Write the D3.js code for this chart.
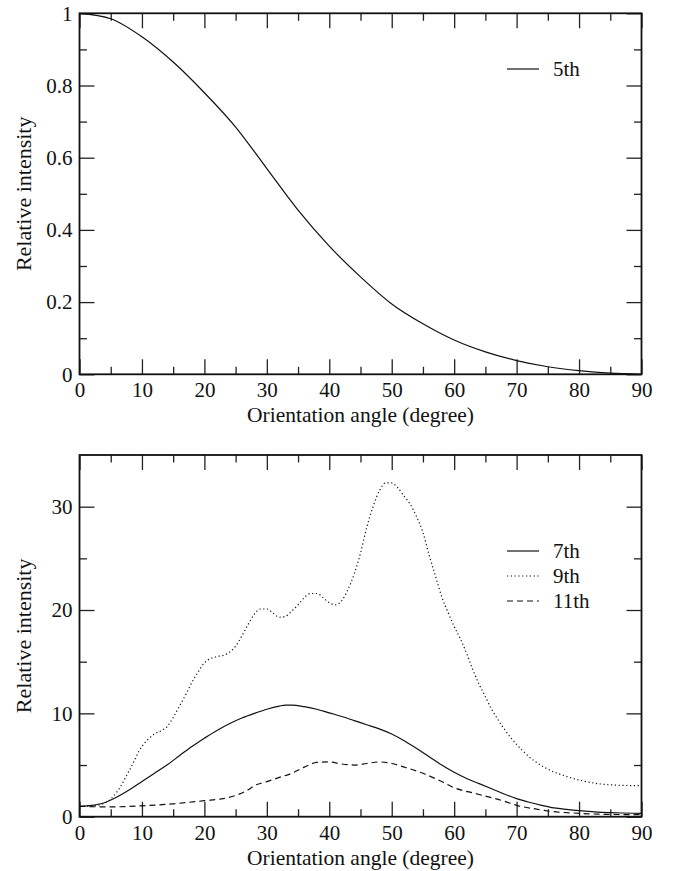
<!DOCTYPE html>
<html><head><meta charset="utf-8">
<script src="https://cdn.jsdelivr.net/npm/d3@7/dist/d3.min.js"></script>
<style>
body{margin:0;background:#fff;}
</style></head><body>
<svg id="c" width="677" height="871"></svg>
<script>
// ---- data ----
const angles5 = [0,5,10,15,20,25,30,35,40,45,50,55,60,65,70,75,80,85,90];
const fifth   = [1.0,0.985,0.935,0.865,0.78,0.685,0.57,0.455,0.355,0.27,0.195,0.14,0.095,0.062,0.038,0.021,0.01,0.003,0.0];

const angles7 = [0,2,4,6,8,10,12,14,16,18,20,22,24,26,28,30,32,33,34,36,38,40,42,44,46,48,50,52,54,56,58,60,62,64,66,68,70,72,74,76,78,80,83,86,90];
const seventh = [1.0,1.1,1.35,1.9,2.6,3.4,4.2,5.0,5.9,6.8,7.6,8.35,9.0,9.55,10.0,10.4,10.7,10.8,10.8,10.65,10.4,10.05,9.7,9.3,8.9,8.5,8.0,7.35,6.6,5.8,5.0,4.3,3.7,3.2,2.7,2.2,1.75,1.4,1.1,0.85,0.7,0.58,0.45,0.38,0.33];

const angles9 = [0,2,4,6,8,10,11,12,13,14,15,16,17,18,19,20,21,22,23,24,25,26,27,28,29,30,31,32,33,34,35,36,37,38,39,40,41,42,43,44,45,46,47,48,49,50,51,52,53,54,55,56,57,58,59,60,61,62,63,64,65,66,67,68,69,70,72,75,78,80,83,86,90];
const ninth   = [1.0,1.05,1.3,2.4,4.5,6.8,7.5,8.0,8.3,8.7,9.6,10.7,11.8,13.0,14.0,14.9,15.3,15.5,15.6,15.9,16.5,17.5,18.6,19.6,20.1,20.1,19.7,19.3,19.4,19.9,20.5,21.2,21.6,21.6,21.2,20.7,20.5,20.9,22.0,23.5,25.5,28.0,30.0,31.5,32.3,32.3,31.8,31.0,30.2,29.0,27.5,25.3,23.3,21.3,19.8,18.4,17.2,15.8,14.2,12.8,11.6,10.4,9.4,8.5,7.7,7.0,5.8,4.6,3.9,3.55,3.2,3.05,3.0];

const angles11 = [0,5,10,15,20,23,25,27,28,30,32,34,36,38,40,42,44,46,48,50,52,55,58,60,63,65,68,70,73,75,80,85,90];
const eleventh = [1.0,0.95,1.05,1.25,1.55,1.75,2.05,2.6,3.0,3.4,3.8,4.2,4.8,5.25,5.3,5.1,5.0,5.15,5.3,5.15,4.8,4.2,3.4,2.8,2.3,2.0,1.5,1.1,0.75,0.55,0.33,0.22,0.2];

const xMajor = [0,10,20,30,40,50,60,70,80,90];
const xMinor = [5,15,25,35,45,55,65,75,85];
const yTopMajor = [0,0.2,0.4,0.6,0.8,1];
const yTopLabels = ["0","0.2","0.4","0.6","0.8","1"];
const yTopMinor = [0.1,0.3,0.5,0.7,0.9];
const yBotMajor = [0,10,20,30];
const yBotMinor = [5,15,25];

const legendTop = [{name:"5th", dash:null}];
const legendBot = [{name:"7th", dash:null},{name:"9th", dash:"1.2,2.6"},{name:"11th", dash:"6,4"}];

// ---- drawing ----
const FONT = '"Liberation Serif", "Times New Roman", Tinos, serif';
const svg = d3.select("#c");
const L = 79.5, R = 641.5;
const panels = [
  {top:13.3, bottom:374.3, ydom:[0,1], yMajor:yTopMajor, yLabels:yTopLabels, yMinor:yTopMinor,
   series:[{x:angles5,y:fifth,dash:null}], legend:legendTop, legY:69},
  {top:455, bottom:816.7, ydom:[0,35], yMajor:yBotMajor, yLabels:yBotMajor.map(String), yMinor:yBotMinor,
   series:[{x:angles7,y:seventh,dash:null},{x:angles9,y:ninth,dash:"1.2,2.6"},{x:angles11,y:eleventh,dash:"6,4"}],
   legend:legendBot, legY:551}
];

const x = d3.scaleLinear().domain([0,90]).range([L,R]);
const MAJ = 15, MIN = 7.5, FS = 21;

panels.forEach(p=>{
  const y = d3.scaleLinear().domain(p.ydom).range([p.bottom,p.top]);
  const g = svg.append("g");

  const bx = g.append("g").attr("transform",`translate(0,${p.bottom})`)
    .call(d3.axisBottom(x).tickValues(xMajor).tickSize(-MAJ).tickPadding(8).tickFormat(d3.format("d")));
  const bxm = g.append("g").attr("transform",`translate(0,${p.bottom})`)
    .call(d3.axisBottom(x).tickValues(xMinor).tickSize(-MIN).tickFormat(""));
  const tx = g.append("g").attr("transform",`translate(0,${p.top})`)
    .call(d3.axisTop(x).tickValues(xMajor).tickSize(-MAJ).tickFormat(""));
  const txm = g.append("g").attr("transform",`translate(0,${p.top})`)
    .call(d3.axisTop(x).tickValues(xMinor).tickSize(-MIN).tickFormat(""));
  const ly = g.append("g").attr("transform",`translate(${L},0)`)
    .call(d3.axisLeft(y).tickValues(p.yMajor).tickSize(-MAJ).tickPadding(7).tickFormat((d,i)=>p.yLabels[i]));
  const lym = g.append("g").attr("transform",`translate(${L},0)`)
    .call(d3.axisLeft(y).tickValues(p.yMinor).tickSize(-MIN).tickFormat(""));
  const ry = g.append("g").attr("transform",`translate(${R},0)`)
    .call(d3.axisRight(y).tickValues(p.yMajor).tickSize(-MAJ).tickFormat(""));
  const rym = g.append("g").attr("transform",`translate(${R},0)`)
    .call(d3.axisRight(y).tickValues(p.yMinor).tickSize(-MIN).tickFormat(""));

  [bx,bxm,tx,txm,ly,lym,ry,rym].forEach(a=>{
    a.attr("font-family",FONT).attr("font-size",FS);
    a.select(".domain").remove();
    a.selectAll(".tick line").attr("stroke","#222").attr("stroke-width",1.3);
    a.selectAll("text").attr("font-family",FONT).attr("font-size",FS).attr("fill","#111");
  });

  g.append("rect").attr("x",L).attr("y",p.top).attr("width",R-L).attr("height",p.bottom-p.top)
    .attr("fill","none").attr("stroke","#111").attr("stroke-width",1.8);

  const clipId = "clip"+Math.round(p.top);
  svg.append("clipPath").attr("id",clipId).append("rect")
    .attr("x",L).attr("y",p.top).attr("width",R-L).attr("height",p.bottom-p.top);
  p.series.forEach(s=>{
    const pts = s.x.map((a,i)=>[a,s.y[i]]);
    g.append("path").datum(pts)
      .attr("clip-path",`url(#${clipId})`)
      .attr("d", d3.line().x(d=>x(d[0])).y(d=>y(d[1])).curve(d3.curveMonotoneX))
      .attr("fill","none").attr("stroke","#111").attr("stroke-width",1.2)
      .attr("stroke-dasharray", s.dash);
  });

  p.legend.forEach((l,i)=>{
    const ly0 = p.legY + i*25;
    g.append("line").attr("x1",507).attr("x2",539).attr("y1",ly0).attr("y2",ly0)
      .attr("stroke","#111").attr("stroke-width",1.2).attr("stroke-dasharray",l.dash);
    g.append("text").attr("x",553).attr("y",ly0).attr("dy","0.35em")
      .attr("font-family",FONT).attr("font-size",21).attr("fill","#111").text(l.name);
  });

  g.append("text").attr("x",(L+R)/2).attr("y",p.bottom+48).attr("text-anchor","middle")
    .attr("font-family",FONT).attr("font-size",21.5).attr("fill","#111").text("Orientation angle (degree)");
  g.append("text").attr("transform",`translate(23,${(p.top+p.bottom)/2}) rotate(-90)`)
    .attr("text-anchor","middle").attr("dy","0.35em")
    .attr("font-family",FONT).attr("font-size",22).attr("fill","#111").text("Relative intensity");
});
</script>
</body></html>
